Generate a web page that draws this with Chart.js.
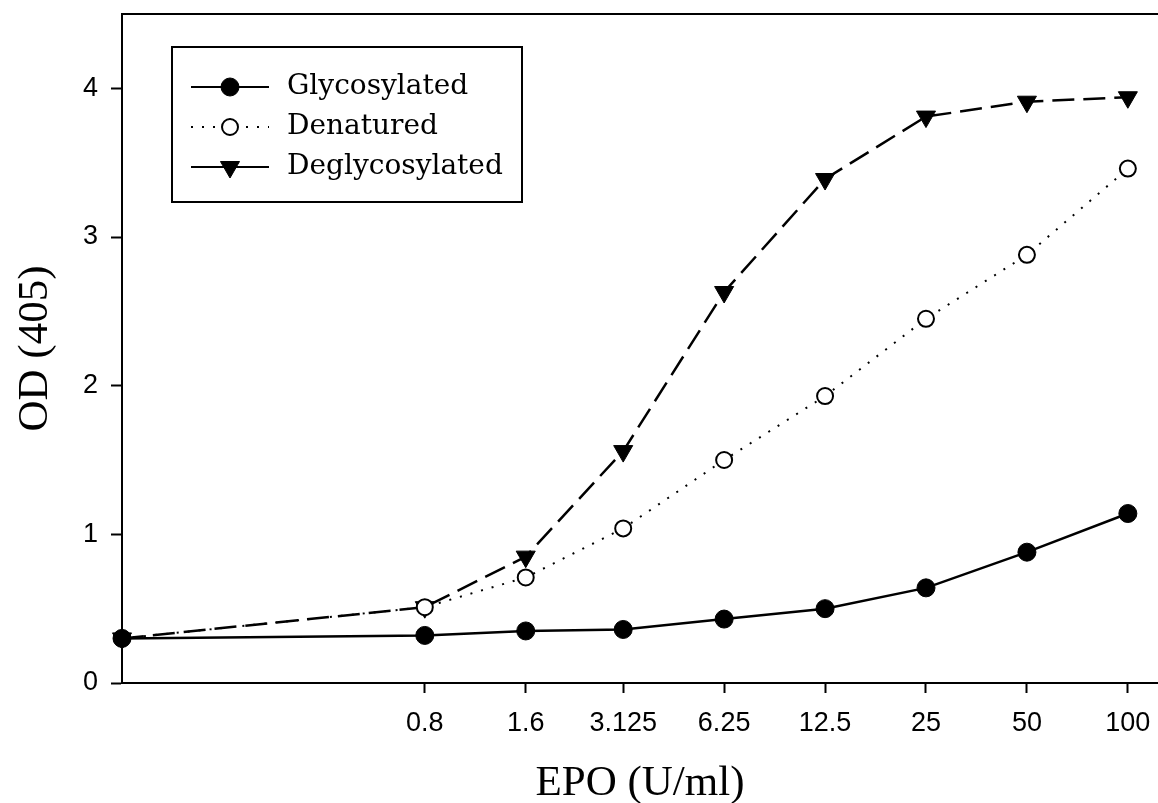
<!DOCTYPE html>
<html>
<head>
<meta charset="utf-8">
<title>EPO ELISA</title>
<script src="https://cdn.jsdelivr.net/npm/chart.js@4.4.1/dist/chart.umd.min.js"></script>
<style>
  html, body { margin: 0; padding: 0; background: #fff; }
  #wrap { width: 1158px; height: 803px; }
</style>
</head>
<body>
<div id="wrap"><canvas id="epoChart" width="1158" height="803"></canvas></div>
<script>
// EPO dose (U/ml); the first point is the blank, drawn on the y axis
const doses = [0.1, 0.8, 1.6, 3.125, 6.25, 12.5, 25, 50, 100];
const glycosylated = [0.30, 0.32, 0.35, 0.36, 0.43, 0.50, 0.64, 0.88, 1.14];
const denatured = [0.30, 0.51, 0.71, 1.04, 1.50, 1.93, 2.45, 2.88, 3.46];
const deglycosylated = [0.30, 0.51, 0.85, 1.56, 2.63, 3.39, 3.81, 3.91, 3.94];

const xTicks = [0.8, 1.6, 3.125, 6.25, 12.5, 25, 50, 100];
const xTickLabels = ['0.8', '1.6', '3.125', '6.25', '12.5', '25', '50', '100'];
const yTicks = [0, 1, 2, 3, 4];

const seriesNames = ['Glycosylated', 'Denatured', 'Deglycosylated'];

function toPoints(ys) {
  return doses.map((x, i) => ({ x: x, y: ys[i] }));
}

// legend box inside the plot + top frame line
const frameAndLegend = {
  id: 'frameAndLegend',
  afterDraw(chart) {
    const ctx = chart.ctx;
    const area = chart.chartArea;
    ctx.save();
    ctx.strokeStyle = '#000';
    ctx.lineWidth = 2;
    ctx.beginPath();
    ctx.moveTo(area.left, area.top);
    ctx.lineTo(area.right, area.top);
    ctx.stroke();

    // legend
    ctx.strokeRect(172, 47, 350, 155);
    const rows = [87, 127, 167];
    chart.data.datasets.forEach((ds, i) => {
      const y = rows[i];
      ctx.save();
      ctx.lineWidth = 2;
      ctx.setLineDash(i === 1 ? [2, 9] : []);
      ctx.beginPath();
      ctx.moveTo(191, y);
      ctx.lineTo(269, y);
      ctx.stroke();
      ctx.restore();
      ctx.fillStyle = ds.pointBackgroundColor;
      ctx.strokeStyle = '#000';
      ctx.lineWidth = ds.pointBorderWidth;
      Chart.helpers.drawPoint(ctx, {
        pointStyle: ds.pointStyle,
        radius: ds.pointRadius,
        rotation: ds.pointRotation || 0,
        borderWidth: ds.pointBorderWidth
      }, 230, y);
      ctx.fillStyle = '#000';
      ctx.font = '28px "DejaVu Serif"';
      ctx.textAlign = 'left';
      ctx.textBaseline = 'middle';
      ctx.fillText(seriesNames[i], 287, y);
    });
    ctx.restore();
  }
};

const ctx = document.getElementById('epoChart').getContext('2d');
new Chart(ctx, {
  type: 'line',
  data: {
    datasets: [
      {
        label: seriesNames[0],
        data: toPoints(glycosylated),
        borderColor: '#000',
        borderWidth: 2.5,
        pointStyle: 'circle',
        pointRadius: 9,
        pointBackgroundColor: '#000',
        pointBorderColor: '#000',
        pointBorderWidth: 1,
        clip: false
      },
      {
        label: seriesNames[1],
        data: toPoints(denatured),
        borderColor: '#000',
        borderWidth: 2,
        borderDash: [2, 9],
        pointStyle: 'circle',
        pointRadius: 8,
        pointBackgroundColor: '#fff',
        pointBorderColor: '#000',
        pointBorderWidth: 2,
        clip: false
      },
      {
        label: seriesNames[2],
        data: toPoints(deglycosylated),
        borderColor: '#000',
        borderWidth: 2.5,
        borderDash: [22, 9],
        pointStyle: 'triangle',
        pointRotation: 180,
        pointRadius: 11,
        pointBackgroundColor: '#000',
        pointBorderColor: '#000',
        pointBorderWidth: 1,
        clip: false
      }
    ]
  },
  options: {
    responsive: false,
    animation: false,
    layout: { autoPadding: false, padding: { top: 14, right: 0, left: 0, bottom: 0 } },
    plugins: {
      legend: { display: false },
      tooltip: { enabled: false }
    },
    elements: { line: { tension: 0 } },
    scales: {
      x: {
        type: 'logarithmic',
        min: 0.1,
        max: 123,
        afterBuildTicks: (scale) => { scale.ticks = xTicks.map(v => ({ value: v })); },
        afterFit: (scale) => { scale.height = 120; scale.paddingLeft = 0; scale.paddingRight = 0; },
        grid: { drawOnChartArea: false, drawTicks: true, tickLength: 10, tickWidth: 2, tickColor: '#000' },
        border: { display: true, color: '#000', width: 2 },
        ticks: {
          autoSkip: false,
          maxRotation: 0,
          padding: 14,
          color: '#000',
          font: { family: '"Liberation Sans", Arial', size: 27 },
          callback: (value, index) => xTickLabels[index]
        },
        title: {
          display: true,
          text: 'EPO (U/ml)',
          color: '#000',
          font: { family: '"Liberation Serif", "Times New Roman"', size: 43, lineHeight: 0.9 },
          padding: { top: 0, bottom: 0 }
        }
      },
      y: {
        min: 0,
        max: 4.5,
        afterBuildTicks: (scale) => { scale.ticks = yTicks.map(v => ({ value: v })); },
        afterFit: (scale) => { scale.width = 122; scale.paddingTop = 0; scale.paddingBottom = 0; },
        grid: { drawOnChartArea: false, drawTicks: true, tickLength: 11, tickWidth: 2, tickColor: '#000' },
        border: { display: true, color: '#000', width: 2 },
        ticks: {
          padding: 13,
          color: '#000',
          font: { family: '"Liberation Sans", Arial', size: 27 }
        },
        title: {
          display: true,
          text: 'OD (405)',
          color: '#000',
          font: { family: '"Liberation Serif", "Times New Roman"', size: 43 },
          padding: { top: 10, bottom: 0 }
        }
      }
    }
  },
  plugins: [frameAndLegend]
});
</script>
</body>
</html>
